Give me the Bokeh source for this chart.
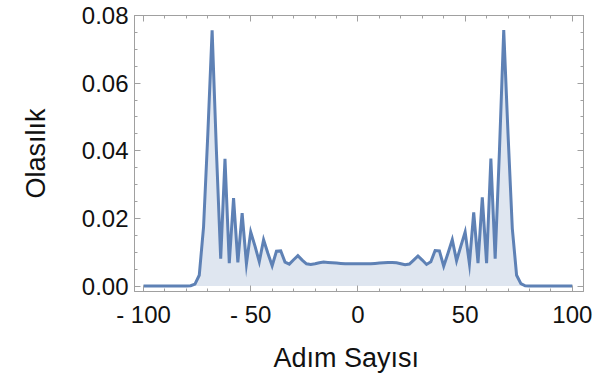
from bokeh.plotting import figure
from bokeh.models import Range1d, FixedTicker, LinearAxis, PrintfTickFormatter, Title, CustomJSTickFormatter
from bokeh.embed import file_html
from bokeh.resources import INLINE

# Positions (Adım Sayısı), even sites only
positions = list(range(-100, 101, 2))

# Probabilities, left half (-100 .. -2)
prob_left = [0, 0, 0, 0, 0, 0, 0, 0, 0, 0, 0,
             0.0001, 0.0006, 0.0032, 0.0174, 0.0450, 0.0756, 0.0400, 0.0081, 0.0376, 0.0068,
             0.0260, 0.0070, 0.0216, 0.0066, 0.0160, 0.0118, 0.0072, 0.0137, 0.0097, 0.0060,
             0.0103, 0.0104, 0.0071, 0.0065, 0.0078, 0.0090, 0.0077, 0.0066, 0.0064, 0.0066,
             0.0069, 0.0071, 0.0070, 0.0069, 0.0068, 0.0067, 0.0066, 0.0066, 0.0066]
# right half (0 .. 100)
prob_right = [0.0066, 0.0066, 0.0066, 0.0066, 0.0067, 0.0068, 0.0069, 0.0070, 0.0070, 0.0069,
              0.0066, 0.0063, 0.0065, 0.0077, 0.0089, 0.0077, 0.0064, 0.0072, 0.0105, 0.0104,
              0.0059, 0.0097, 0.0137, 0.0075, 0.0118, 0.0160, 0.0066, 0.0218, 0.0068, 0.0262,
              0.0068, 0.0377, 0.0081, 0.0400, 0.0757, 0.0450, 0.0170, 0.0032, 0.0007, 0.0001,
              0, 0, 0, 0, 0, 0, 0, 0, 0, 0, 0]
probability = prob_left + prob_right

x_major = [-100, -50, 0, 50, 100]
x_minor = list(range(-100, 101, 10))
x_labels = {-100: "- 100", -50: "- 50", 0: "0", 50: "50", 100: "100"}
y_major = [0.0, 0.02, 0.04, 0.06, 0.08]
y_minor = [i * 0.005 for i in range(17)]

LINE = "#5E81B5"
FILL = "#DFE6F0"
FRAME = "#a0a0a0"
FONT = "Liberation Sans"

p = figure(width=607, height=383, output_backend="svg", toolbar_location=None,
           x_range=Range1d(-104.2, 105.2), y_range=Range1d(-0.0016, 0.08),
           min_border_left=134, min_border_right=24, min_border_top=15, min_border_bottom=92,
           x_axis_location=None, y_axis_location=None)
p.grid.visible = False
p.outline_line_color = FRAME
p.outline_line_width = 1
p.background_fill_color = "white"
p.border_fill_color = "white"

p.varea(x=positions, y1=[0] * len(positions), y2=probability, fill_color=FILL, fill_alpha=1.0)
p.line(positions, probability, line_color=LINE, line_width=3, line_join="miter")

def style(ax, labels=True):
    ax.axis_line_color = FRAME
    ax.major_tick_line_color = FRAME
    ax.minor_tick_line_color = FRAME
    ax.major_tick_in = 6
    ax.major_tick_out = 0
    ax.minor_tick_in = 3
    ax.minor_tick_out = 0
    if labels:
        ax.major_label_text_font = FONT
        ax.major_label_text_font_size = "24px"
        ax.major_label_text_color = "#111111"
    else:
        ax.formatter = CustomJSTickFormatter(code="return '';")
        ax.major_label_standoff = 0

bottom = LinearAxis(ticker=FixedTicker(ticks=x_major, minor_ticks=x_minor),
                    major_label_overrides=x_labels)
style(bottom)
bottom.major_label_standoff = 9
p.add_layout(bottom, "below")

top = LinearAxis(ticker=FixedTicker(ticks=x_major, minor_ticks=x_minor))
style(top, labels=False)
p.add_layout(top, "above")

left = LinearAxis(ticker=FixedTicker(ticks=y_major, minor_ticks=y_minor),
                  formatter=PrintfTickFormatter(format="%.2f"))
style(left)
left.major_label_standoff = 6
left.axis_label = "Olasılık"
left.axis_label_text_font = FONT
left.axis_label_text_font_size = "27px"
left.axis_label_text_font_style = "normal"
left.axis_label_text_color = "#111111"
left.axis_label_standoff = 28
p.add_layout(left, "left")

right = LinearAxis(ticker=FixedTicker(ticks=y_major, minor_ticks=y_minor))
style(right, labels=False)
p.add_layout(right, "right")

xlabel = Title(text="Adım Sayısı", align="left", offset=139, text_font=FONT,
               text_font_size="27px", text_font_style="normal", text_color="#111111",
               standoff=21)
p.add_layout(xlabel, "below")

open("out.html", "w").write(file_html(p, INLINE))
